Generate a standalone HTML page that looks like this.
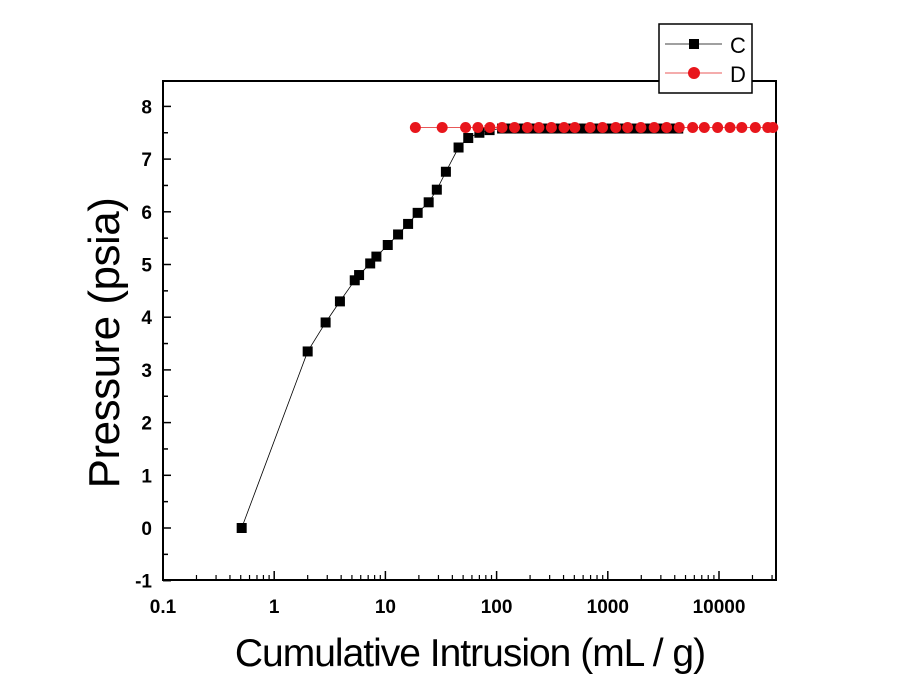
<!DOCTYPE html>
<html><head><meta charset="utf-8"><style>
body{margin:0;background:#fff;position:relative}
svg text{font-family:"Liberation Sans",Arial,sans-serif}
</style></head><body>
<svg width="900" height="695" xmlns="http://www.w3.org/2000/svg">
<g id="g"></g>
</svg>
<script>
const cX=[0.51,2.0,2.9,3.9,5.3,5.8,7.3,8.3,10.5,13,16,19.5,24.5,29,35,45.5,55.6,70,86.5,112,135,160,190,225,270,320,380,450,540,640,760,900,1070,1270,1500,1800,2100,2500,3000,3600,4300];
const cY=[0,3.35,3.9,4.3,4.7,4.8,5.02,5.15,5.37,5.57,5.77,5.98,6.18,6.42,6.76,7.22,7.4,7.5,7.55,7.58,7.58,7.58,7.58,7.58,7.58,7.58,7.58,7.58,7.58,7.58,7.58,7.58,7.58,7.58,7.58,7.58,7.58,7.58,7.58,7.58,7.58];
const dX=[18.6,32.4,52.6,67.9,87,112,145,189,240,311,404,505,693,896,1180,1506,1983,2612,3381,4388,5794,7380,9720,12560,16030,21230,27470,30480];
const dY=[7.6,7.6,7.6,7.6,7.6,7.6,7.6,7.6,7.6,7.6,7.6,7.6,7.6,7.6,7.6,7.6,7.6,7.6,7.6,7.6,7.6,7.6,7.6,7.6,7.6,7.6,7.6,7.6];
const yTicks=[-1,0,1,2,3,4,5,6,7,8];
const xTicks=[0.1,1,10,100,1000,10000];
const xTickLabels=["0.1","1","10","100","1000","10000"];
const L=163,R=776,T=81,B=580;
const X=v=>L+(Math.log10(v)+1)*111.2;
const Y=v=>528-v*52.7;
const NS="http://www.w3.org/2000/svg";
const g=document.getElementById('g');
function mk(t,a,p){const e=document.createElementNS(NS,t);for(const k in a)e.setAttribute(k,a[k]);(p||g).appendChild(e);return e;}
yTicks.forEach(v=>{
 const t=mk('line',{x1:L,x2:L+8,y1:Y(v),y2:Y(v),stroke:'#000','stroke-width':1.5});
 
 
 if(v<8){const m=mk('line',{x1:L,x2:L+5,y1:Y(v+0.5),y2:Y(v+0.5),stroke:'#000','stroke-width':1.5});
 
 }
 const l=mk('text',{x:L-11,y:Y(v)+7,'text-anchor':'end','font-size':19,'font-weight':'bold'});
 l.textContent=v;
 
 
});
xTicks.forEach((v,i)=>{
 const t=mk('line',{x1:X(v),x2:X(v),y1:B,y2:B-9,stroke:'#000','stroke-width':1.5});
 
 
 for(let k=2;k<=9;k++){const xv=v*k;if(X(xv)>R)break;
  const m=mk('line',{x1:X(xv),x2:X(xv),y1:B,y2:B-5,stroke:'#000','stroke-width':1.2});
  
  }
 const l=mk('text',{x:X(v),y:B+33,'text-anchor':'middle','font-size':19,'font-weight':'bold'});
 l.textContent=xTickLabels[i];
 
 
});
const fr=mk('rect',{x:L,y:T,width:R-L,height:B-T,fill:'none',stroke:'#000','stroke-width':2});


const lc=mk('polyline',{points:cX.map((v,i)=>X(v)+','+Y(cY[i])).join(' '),fill:'none',stroke:'#000','stroke-width':0.8});


const ld=mk('polyline',{points:dX.map((v,i)=>X(v)+','+Y(dY[i])).join(' '),fill:'none',stroke:'#e02020','stroke-width':0.8});


cX.forEach((v,i)=>{
 const p=mk('rect',{x:X(v)-5,y:Y(cY[i])-5,width:10,height:10,fill:'#000'});
 
 
});
dX.forEach((v,i)=>{
 const p=mk('circle',{cx:X(v),cy:Y(dY[i]),r:5.5,fill:'#e8161c'});
 
 
});
</script>
<svg width="900" height="695" style="position:absolute;left:0;top:0" xmlns="http://www.w3.org/2000/svg">
<g>
<rect x="659" y="24" width="93" height="69" fill="#fff" stroke="#000" stroke-width="1.5"/>
<line x1="665" y1="44" x2="722" y2="44" stroke="#000" stroke-width="0.8"/>
<rect x="689" y="39" width="10" height="10" fill="#000"/>
<text x="730" y="53" font-size="22" font-family="Liberation Sans, sans-serif">C</text>
<line x1="665" y1="73" x2="722" y2="73" stroke="#e02020" stroke-width="0.8"/>
<circle cx="694" cy="73" r="6" fill="#e8161c"/>
<text x="730" y="82" font-size="22" font-family="Liberation Sans, sans-serif">D</text>
</g>
<text transform="translate(119,343) rotate(-90)" text-anchor="middle" font-size="44" font-family="Liberation Sans, sans-serif" letter-spacing="-0.5">Pressure (psia)</text>
<text x="470" y="666" text-anchor="middle" font-size="39" font-family="Liberation Sans, sans-serif" letter-spacing="-1">Cumulative Intrusion (mL / g)</text>
</svg>
</body></html>
